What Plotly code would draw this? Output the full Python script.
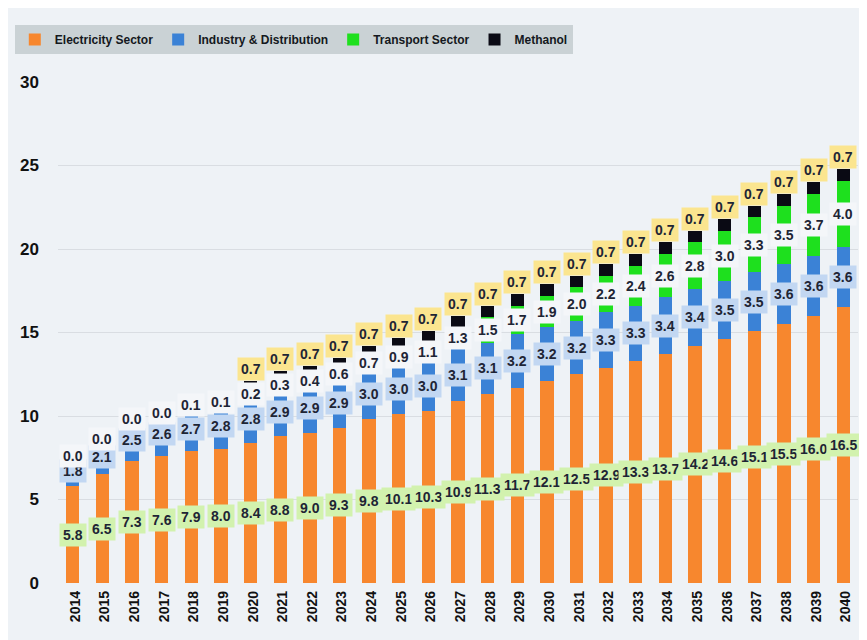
import plotly.graph_objs as go

years = list(range(2014, 2041))
electricity = [5.8, 6.5, 7.3, 7.6, 7.9, 8.0, 8.4, 8.8, 9.0, 9.3, 9.8, 10.1, 10.3, 10.9,
               11.3, 11.7, 12.1, 12.5, 12.9, 13.3, 13.7, 14.2, 14.6, 15.1, 15.5, 16.0, 16.5]
industry = [1.8, 2.1, 2.5, 2.6, 2.7, 2.8, 2.8, 2.9, 2.9, 2.9, 3.0, 3.0, 3.0, 3.1,
            3.1, 3.2, 3.2, 3.2, 3.3, 3.3, 3.4, 3.4, 3.5, 3.5, 3.6, 3.6, 3.6]
transport = [0.0, 0.0, 0.0, 0.0, 0.1, 0.1, 0.2, 0.3, 0.4, 0.6, 0.7, 0.9, 1.1, 1.3,
             1.5, 1.7, 1.9, 2.0, 2.2, 2.4, 2.6, 2.8, 3.0, 3.3, 3.5, 3.7, 4.0]
methanol = [0.0, 0.0, 0.0, 0.0, 0.0, 0.0, 0.7, 0.7, 0.7, 0.7, 0.7, 0.7, 0.7, 0.7,
            0.7, 0.7, 0.7, 0.7, 0.7, 0.7, 0.7, 0.7, 0.7, 0.7, 0.7, 0.7, 0.7]

bg = "#EEF2F6"
label_font = dict(family="Liberation Sans", size=14, color="#1E2535", weight="bold")

fig = go.Figure()
series = [
    ("Electricity Sector", electricity, "#F7872E"),
    ("Industry & Distribution", industry, "#3B82D6"),
    ("Transport Sector", transport, "#1EE01E"),
    ("Methanol", methanol, "#0A0A14"),
]
for name, vals, color in series:
    fig.add_trace(go.Bar(x=years, y=vals, name=name, marker=dict(color=color, line=dict(width=0))))

# data labels with highlight patches
annotations = []
for i, yr in enumerate(years):
    e, d, t, m = electricity[i], industry[i], transport[i], methanol[i]
    annotations.append(dict(x=yr, y=e / 2, text=f"{e:.1f}", bgcolor="#D2F2AE"))
    annotations.append(dict(x=yr, y=e + d / 2, text=f"{d:.1f}", bgcolor="#C2D7F2"))
    annotations.append(dict(x=yr, y=e + d + t / 2, text=f"{t:.1f}", bgcolor="#F4F6F9"))
    if m > 0:
        annotations.append(dict(x=yr, y=e + d + t + m, text=f"{m:.1f}", bgcolor="#FBE58F",
                                yanchor="bottom"))
for a in annotations:
    a.update(showarrow=False, font=label_font, borderpad=3, xref="x", yref="y")

fig.update_layout(
    barmode="stack",
    bargap=0.55,
    width=859,
    height=632,
    margin=dict(l=50, r=9, t=74, b=57, autoexpand=False),
    paper_bgcolor=bg,
    plot_bgcolor=bg,
    annotations=annotations,
    showlegend=True,
    legend=dict(
        orientation="h",
        x=-0.054, y=1.114, xanchor="left", yanchor="top",
        bgcolor="#CAD2D5",
        font=dict(family="Liberation Sans", size=12, color="#141820", weight="bold"),
        traceorder="normal",
        itemwidth=30,
    ),
    yaxis=dict(
        range=[0, 30], dtick=5, showgrid=True, gridcolor="#D9DDE2", gridwidth=1,
        zeroline=False, showline=False, automargin=False,
        tickfont=dict(family="Liberation Sans", size=17, color="#111111", weight="bold"),
        ticklabelstandoff=18,
    ),
    xaxis=dict(
        range=[years[0] - 0.5, years[-1] + 0.5], tickmode="linear", dtick=1,
        autotickangles=[-90],
        showline=False, showgrid=False, zeroline=False, automargin=False,
        tickfont=dict(family="Liberation Sans", size=14, color="#111111", weight="bold"),
    ),
    font=dict(family="Liberation Sans"),
)

fig.write_html("out.html")
